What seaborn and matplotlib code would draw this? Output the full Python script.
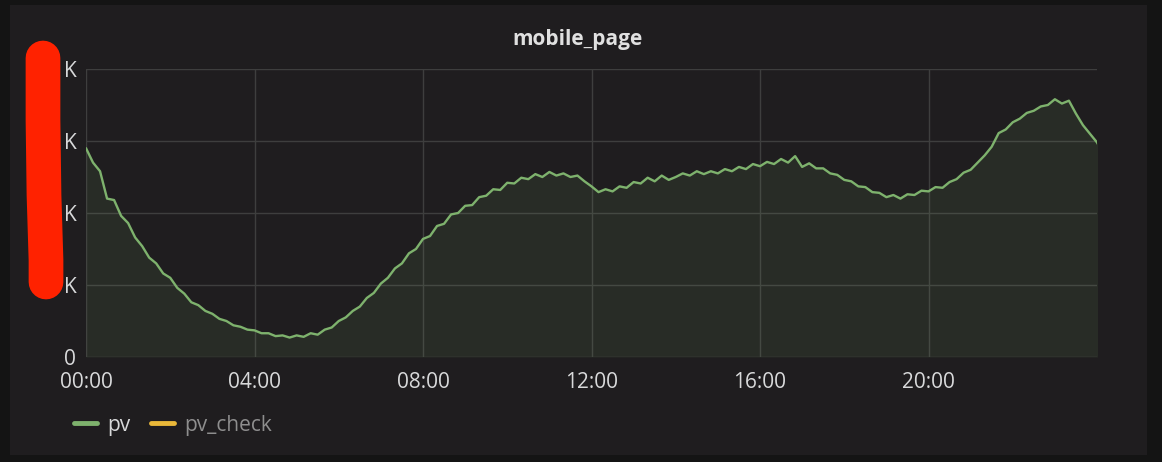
import numpy as np
import pandas as pd
import matplotlib
matplotlib.use("Agg")
import matplotlib.pyplot as plt
from matplotlib.lines import Line2D
from matplotlib.patches import Rectangle
import seaborn as sns

# pv values every 10 minutes (in K)
pv = [14.5, 13.5, 12.9, 11.0, 10.9, 9.8, 9.3, 8.3, 7.7, 6.9,
      6.5, 5.8, 5.5, 4.8, 4.4, 3.8, 3.6, 3.2, 3.0, 2.65,
      2.5, 2.2, 2.1, 1.9, 1.85, 1.65, 1.65, 1.45, 1.5, 1.35,
      1.5, 1.4, 1.65, 1.55, 1.9, 2.05, 2.5, 2.75, 3.2, 3.5,
      4.1, 4.45, 5.1, 5.5, 6.15, 6.5, 7.2, 7.5, 8.2, 8.4,
      9.1, 9.25, 9.9, 10.0, 10.5, 10.55, 11.1, 11.2, 11.65, 11.6,
      12.1, 12.05, 12.45, 12.35, 12.7, 12.5, 12.85, 12.6, 12.75, 12.5,
      12.6, 12.2, 11.85, 11.45, 11.65, 11.5, 11.85, 11.75, 12.15, 12.05,
      12.45, 12.2, 12.6, 12.3, 12.5, 12.75, 12.6, 12.9, 12.7, 12.9,
      12.75, 13.05, 12.9, 13.2, 13.05, 13.4, 13.25, 13.55, 13.4, 13.75,
      13.5, 13.95, 13.2, 13.45, 13.1, 13.1, 12.75, 12.65, 12.3, 12.2,
      11.85, 11.8, 11.45, 11.4, 11.1, 11.25, 11.0, 11.3, 11.25, 11.55,
      11.5, 11.8, 11.75, 12.15, 12.35, 12.8, 13.0, 13.5, 14.0, 14.6,
      15.55, 15.8, 16.3, 16.55, 16.95, 17.1, 17.4, 17.5, 17.9, 17.6,
      17.8, 16.9, 16.1, 15.5, 14.9, 14.0, 12.8]
hours = np.arange(len(pv)) / 6
y_ticks = [0, 5, 10, 15, 20]
# the numbers in front of "K" are scribbled out in the screenshot
y_labels = ["0", "K", "K", "K", "K"]
x_ticks = [0, 4, 8, 12, 16, 20]
x_labels = ["00:00", "04:00", "08:00", "12:00", "16:00", "20:00"]
series_names = ["pv", "pv_check"]
series_colors = ["#7eb26d", "#eab839"]

df = pd.DataFrame({"hour": hours, "pv": pv})

sns.set_style("dark")
plt.rcParams["font.family"] = ["Open Sans", "DejaVu Sans"]

fig = plt.figure(figsize=(11.62, 4.62), dpi=100)
fig.patch.set_facecolor("#141414")
W, H = 1162, 462
# panel background
fig.add_artist(Rectangle((10 / W, 1 - 455 / H), 1137 / W, 450 / H,
                         transform=fig.transFigure, facecolor="#1f1d1f",
                         edgecolor="none", zorder=-1))

ax = fig.add_axes([86 / W, 1 - 357 / H, 1011 / W, 288 / H])
ax.set_facecolor("none")
sns.lineplot(data=df, x="hour", y="pv", ax=ax, color=series_colors[0],
             linewidth=1.7)
ax.fill_between(df["hour"], df["pv"], color=series_colors[0], alpha=0.1,
                linewidth=0)

ax.set_xlim(0, 24)
ax.set_ylim(0, 20)
ax.set_xticks(x_ticks)
ax.set_xticklabels(x_labels)
ax.set_yticks(y_ticks)
ax.set_yticklabels(y_labels)
ax.set_xlabel("")
ax.set_ylabel("")
ax.grid(True, color="#3e3e3e", linewidth=1)
for s in ax.spines.values():
    s.set_visible(False)
ax.tick_params(axis="both", colors="#d8d9da", labelsize=15, length=0)
ax.tick_params(axis="x", pad=11)
ax.tick_params(axis="y", pad=7)

fig.text(577 / W, 1 - 39 / H, "mobile_page", color="#e0e0e0", fontsize=15,
         fontweight="bold", ha="center", va="center")

handles = [Line2D([], [], color=c, linewidth=3.5) for c in series_colors]
leg = fig.legend(handles, series_names, loc="center left",
                 bbox_to_anchor=(55 / W, 1 - 425 / H), ncol=2, frameon=False,
                 fontsize=15, handlelength=1.1, handletextpad=0.5,
                 columnspacing=1.0)
leg.get_texts()[0].set_color("#d8d9da")
leg.get_texts()[1].set_color("#8e8e8e")

# red scribble over the axis numbers
fig.add_artist(Line2D([43 / W, 43 / W, 44 / W, 46 / W, 46 / W],
                      [1 - 58 / H, 1 - 120 / H, 1 - 195 / H, 1 - 260 / H, 1 - 282 / H],
                      transform=fig.transFigure, color="#ff2200",
                      linewidth=25, solid_capstyle="round",
                      solid_joinstyle="round", zorder=5))

fig.savefig("out.png", dpi=100, facecolor=fig.get_facecolor())
